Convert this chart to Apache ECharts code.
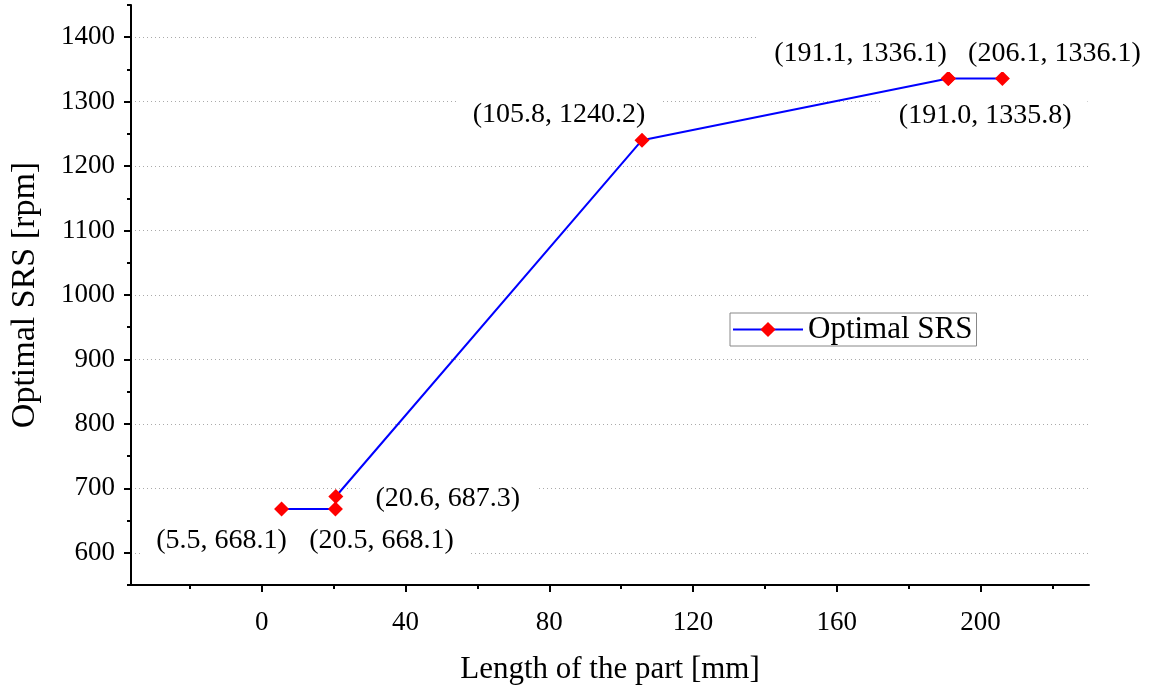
<!DOCTYPE html>
<html>
<head>
<meta charset="utf-8">
<script src="https://cdn.jsdelivr.net/npm/echarts@6/dist/echarts.min.js"></script>
<style>
  html, body { margin: 0; padding: 0; background: #fff; }
  #main { width: 1153px; height: 690px; }
</style>
</head>
<body>
<div id="main"></div>
<script>
// data
var lengthMm = [5.5, 20.5, 20.6, 105.8, 191.0, 191.1, 206.1];
var optimalSrs = [668.1, 668.1, 687.3, 1240.2, 1335.8, 1336.1, 1336.1];
var xTicks = [0, 40, 80, 120, 160, 200];
var xMinorTicks = [-20, 20, 60, 100, 140, 180, 220];
var yTicks = [600, 700, 800, 900, 1000, 1100, 1200, 1300, 1400];
var yMinorTicks = [550, 650, 750, 850, 950, 1050, 1150, 1250, 1350, 1450];

// where each point label sits relative to its marker (px)
var labelOffsets = [[-60, 32], [46, 32], [112, 2], [-83, -26], [37, 37], [-88, -25], [52, -25]];

var FONT = '"Liberation Serif", "Times New Roman", serif';
var X_MIN = -36.4, X_MAX = 230.2, Y_MIN = 550, Y_MAX = 1450;

var myChart = echarts.init(document.getElementById('main'));

var points = lengthMm.map(function (x, i) {
  return [x, optimalSrs[i]];
});

var option = {
  backgroundColor: '#fff',
  animation: false,
  grid: { left: 130, right: 64, top: 5, bottom: 103, containLabel: false },
  legend: {
    data: ['Optimal SRS'],
    left: 730,
    top: 313,
    orient: 'vertical',
    itemWidth: 70,
    itemHeight: 19,
    itemGap: 6,
    padding: [1, 4, 1, 2],
    borderColor: '#888',
    borderWidth: 1,
    borderRadius: 0,
    textStyle: { fontFamily: FONT, fontSize: 31, color: '#000' }
  },
  xAxis: [{
    type: 'value',
    min: X_MIN, max: X_MAX,
    name: 'Length of the part [mm]',
    nameLocation: 'middle',
    nameGap: 69,
    nameTextStyle: { fontFamily: FONT, fontSize: 31, color: '#000' },
    axisLine: { show: true, onZero: false, lineStyle: { color: '#000', width: 2 } },
    axisTick: { show: true, inside: false, length: 7, customValues: xTicks, lineStyle: { color: '#000', width: 2 } },
    axisLabel: { customValues: xTicks, margin: 24, fontFamily: FONT, fontSize: 27, color: '#000' },
    splitLine: { show: false }
  }, {
    type: 'value',
    min: X_MIN, max: X_MAX,
    position: 'bottom',
    axisLine: { show: false, onZero: false },
    axisTick: { show: true, inside: false, length: 4, customValues: xMinorTicks, lineStyle: { color: '#000', width: 2 } },
    axisLabel: { show: false },
    splitLine: { show: false }
  }],
  yAxis: [{
    type: 'value',
    min: Y_MIN, max: Y_MAX,
    name: 'Optimal SRS [rpm]',
    nameLocation: 'middle',
    nameGap: 89,
    nameTextStyle: { fontFamily: FONT, fontSize: 34, color: '#000' },
    axisLine: { show: true, onZero: false, lineStyle: { color: '#000', width: 2 } },
    axisTick: { show: true, inside: false, length: 7, customValues: yTicks, lineStyle: { color: '#000', width: 2 } },
    axisLabel: {
      customValues: yTicks, margin: 16, fontFamily: FONT, fontSize: 27, color: '#000',
      formatter: function (v) { return String(v); }
    },
    splitLine: { show: true, lineStyle: { color: '#aaa', width: 1, type: [1, 3] } }
  }, {
    type: 'value',
    min: Y_MIN, max: Y_MAX,
    position: 'left',
    axisLine: { show: false, onZero: false },
    axisTick: { show: true, inside: false, length: 4, customValues: yMinorTicks, lineStyle: { color: '#000', width: 2 } },
    axisLabel: { show: false },
    splitLine: { show: false }
  }],
  series: [{
    name: 'Optimal SRS',
    type: 'line',
    xAxisIndex: 0,
    yAxisIndex: 0,
    data: points,
    symbol: 'diamond',
    symbolSize: 15,
    showAllSymbol: true,
    itemStyle: { color: '#ff0000' },
    lineStyle: { color: '#0000ff', width: 2 },
    z: 3,
    label: {
      show: true,
      position: 'inside',
      formatter: function (p) {
        return '(' + p.value[0].toFixed(1) + ', ' + p.value[1].toFixed(1) + ')';
      },
      fontFamily: FONT,
      fontSize: 28,
      color: '#000',
      backgroundColor: '#fff',
      padding: [5, 16, 4, 16]
    },
    labelLayout: function (params) {
      var o = labelOffsets[params.dataIndex];
      return { dx: o[0], dy: o[1], hideOverlap: false };
    }
  }]
};

myChart.setOption(option);
</script>
</body>
</html>
